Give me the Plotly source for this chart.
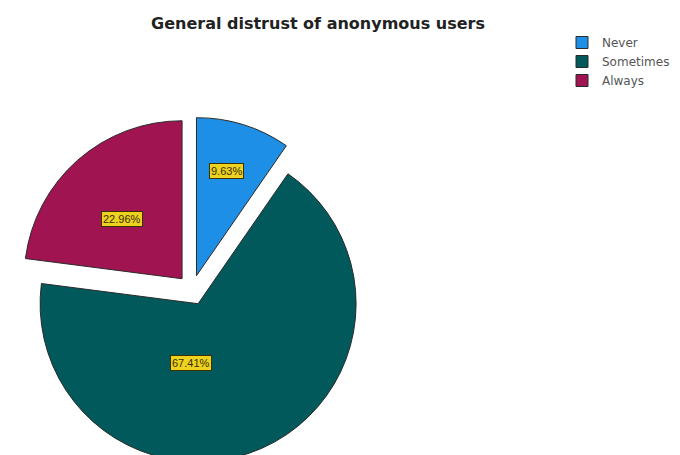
import math
import plotly.graph_objects as go

categories = ["Never", "Sometimes", "Always"]
percentages = [9.63, 67.41, 22.96]
colors = ["#1E8FE6", "#02595B", "#A01452"]

W, H = 680, 455
OFF = 8  # page body margin: figure pixel (0,0) shows at screen (8,8)
PULL = 0.095
# pie box in screen pixels
box_left_s, box_top_s, box_size = 19, 117, 346
bl = box_left_s - OFF
bt = box_top_s - OFF
dom_x = [bl / W, (bl + box_size) / W]
dom_y = [max(0.0, 1 - (bt + box_size) / H), 1 - bt / H]

fig = go.Figure(go.Pie(
    labels=categories,
    values=percentages,
    sort=False,
    direction="clockwise",
    rotation=0,
    pull=[PULL] * len(categories),
    marker=dict(colors=colors, line=dict(color="#2a2a2a", width=1)),
    textinfo="none",
    hoverinfo="label+percent",
    domain=dict(x=dom_x, y=dom_y),
))

# label boxes placed along slice geometry (figure pixel coordinates)
r = box_size / (2 + 2 * PULL)
cx = bl + box_size / 2
cy = bt + box_size / 2
label_frac = [0.69, 0.38, 0.535]
label_shift_deg = [-1.5, 31, -3.5]
total = sum(percentages)
start = 0.0
annotations = []
for i, v in enumerate(percentages):
    span = 360 * v / total
    mid = start + span / 2
    a = math.radians(mid)
    ax_ = cx + PULL * r * math.sin(a)
    ay_ = cy - PULL * r * math.cos(a)
    b = math.radians(mid + label_shift_deg[i])
    lx = ax_ + label_frac[i] * r * math.sin(b)
    ly = ay_ - label_frac[i] * r * math.cos(b)
    annotations.append(dict(
        x=lx / W, y=1 - ly / H, xref="paper", yref="paper",
        xanchor="center", yanchor="middle",
        text=f"{v:.2f}%", showarrow=False,
        font=dict(family="Liberation Sans, Arial", size=11, color="#3a3000"),
        bgcolor="#EDD21F", bordercolor="#3a3000", borderwidth=1, borderpad=1,
    ))
    start += span

fig.update_layout(
    width=W, height=H,
    margin=dict(l=0, r=0, t=0, b=0),
    paper_bgcolor="white",
    title=dict(
        text="<b>General distrust of anonymous users</b>",
        x=(318 - OFF) / W, xanchor="center", y=1 - (23 - OFF) / H, yanchor="middle",
        font=dict(family="DejaVu Sans, Verdana", size=16, color="#222222"),
    ),
    legend=dict(
        x=(562 - OFF) / W, y=1 - (28 - OFF) / H, xanchor="left", yanchor="top",
        font=dict(family="DejaVu Sans, Verdana", size=12, color="#555555"),
        tracegroupgap=0, itemwidth=30,
    ),
    annotations=annotations,
)

fig.write_html("out.html")
